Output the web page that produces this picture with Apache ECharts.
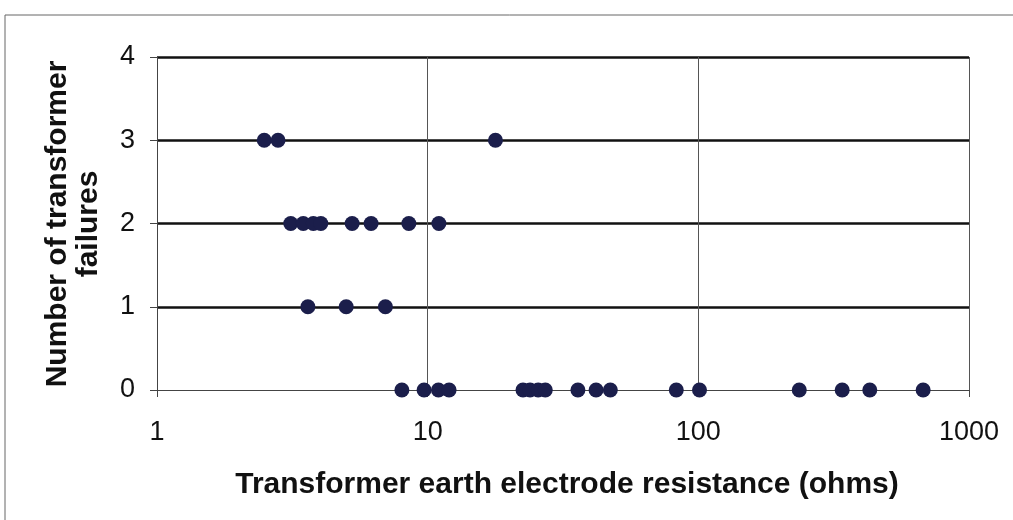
<!DOCTYPE html>
<html>
<head>
<meta charset="utf-8">
<script src="https://cdn.jsdelivr.net/npm/echarts@6/dist/echarts.min.js"></script>
<style>
  html, body { margin: 0; padding: 0; background: #fff; }
  #chart { width: 1013px; height: 520px; }
</style>
</head>
<body>
<div id="chart"></div>
<script>
// Earth electrode resistance (ohms) of transformers, grouped by failure count
const failures3 = [2.49, 2.8, 17.8];
const failures2 = [3.12, 3.47, 3.78, 4.03, 5.26, 6.18, 8.52, 11.0];
const failures1 = [3.61, 5.0, 6.98];
const failures0 = [8.03, 9.7, 10.96, 12.0, 22.5, 23.9, 25.6, 27.2, 35.9, 41.9, 47.3,
                   82.9, 101, 236, 340, 430, 677];

const xTicks = [1, 10, 100, 1000];
const yTicks = [0, 1, 2, 3, 4];

const xTitle = 'Transformer earth electrode resistance (ohms)';
const yTitle = 'Number of transformer\nfailures';

const groups = [[0, failures0], [1, failures1], [2, failures2], [3, failures3]];
const points = [];
groups.forEach(([count, values]) => values.forEach(v => points.push([v, count])));

const chart = echarts.init(document.getElementById('chart'), null, { renderer: 'canvas' });

chart.setOption({
  backgroundColor: '#ffffff',
  animation: false,
  grid: { left: 157, right: 44, top: 57, bottom: 130, containLabel: false },
  xAxis: {
    type: 'log',
    logBase: 10,
    min: xTicks[0],
    max: xTicks[xTicks.length - 1],
    axisLine: { show: true, lineStyle: { color: '#444', width: 1 } },
    axisTick: { show: true, length: 7, inside: false, lineStyle: { color: '#444', width: 1 } },
    axisLabel: {
      margin: 29,
      fontFamily: 'Liberation Sans, Arial, sans-serif',
      fontSize: 27,
      color: '#111',
      formatter: v => String(Math.round(v))
    },
    splitLine: { show: true, showMinLine: false, showMaxLine: true, lineStyle: { color: '#555', width: 1 } },
    minorTick: { show: false },
    minorSplitLine: { show: false }
  },
  yAxis: {
    type: 'value',
    min: yTicks[0],
    max: yTicks[yTicks.length - 1],
    interval: 1,
    axisLine: { show: true, lineStyle: { color: '#444', width: 1 } },
    axisTick: { show: true, length: 7, inside: false, lineStyle: { color: '#444', width: 1 } },
    axisLabel: {
      margin: 22,
      fontFamily: 'Liberation Sans, Arial, sans-serif',
      fontSize: 27,
      color: '#111'
    },
    splitLine: { show: true, showMinLine: false, showMaxLine: true, lineStyle: { color: '#111', width: 2.5 } }
  },
  graphic: [
    {
      type: 'rect',
      silent: true,
      z: -10,
      shape: { x: 5, y: 15, width: 1030, height: 530 },
      style: { fill: 'none', stroke: '#666', lineWidth: 1 }
    },
    {
      type: 'text',
      silent: true,
      x: 567,
      y: 485,
      style: {
        text: xTitle,
        fontFamily: 'Liberation Sans, Arial, sans-serif',
        fontWeight: 'bold',
        fontSize: 30,
        fill: '#111',
        align: 'center',
        verticalAlign: 'middle'
      }
    },
    {
      type: 'text',
      silent: true,
      x: 73,
      y: 224,
      rotation: Math.PI / 2,
      style: {
        text: yTitle,
        fontFamily: 'Liberation Sans, Arial, sans-serif',
        fontWeight: 'bold',
        fontSize: 30,
        lineHeight: 31,
        fill: '#111',
        align: 'center',
        verticalAlign: 'middle'
      }
    }
  ],
  series: [{
    type: 'scatter',
    data: points,
    symbol: 'circle',
    symbolSize: 15,
    itemStyle: { color: '#1b1e4b', opacity: 1 },
    z: 5
  }]
});
</script>
</body>
</html>
